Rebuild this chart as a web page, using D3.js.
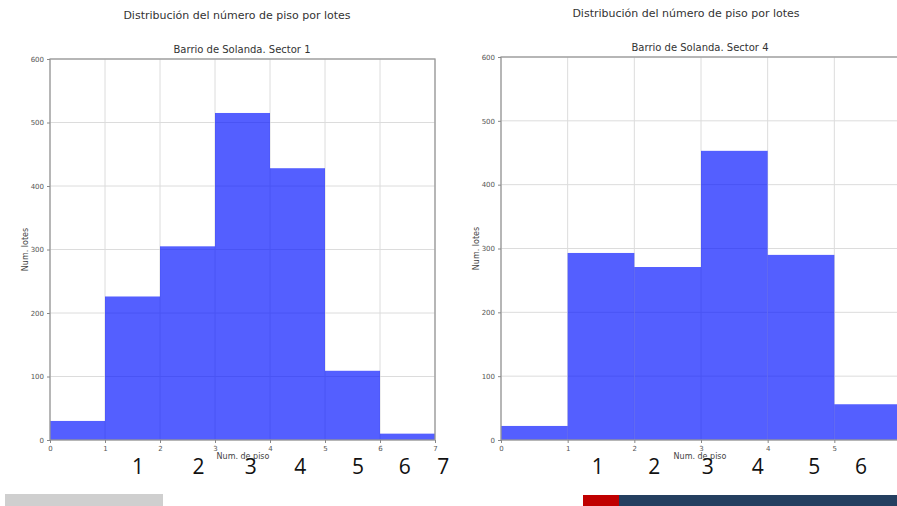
<!DOCTYPE html>
<html>
<head>
<meta charset="utf-8">
<script src="https://cdn.jsdelivr.net/npm/d3@7"></script>
<style>
  body { margin: 0; background: #fff; }
  svg { display: block; font-family: "DejaVu Sans", sans-serif; }
</style>
</head>
<body>
<svg width="897" height="506"></svg>
<script>
// bin edges (Num. de piso) and counts per sector
var binsSector1 = [0, 1, 2, 3, 4, 5, 6, 7];
var countsSector1 = [30, 226, 305, 515, 428, 109, 10];
var binsSector4 = [0, 1, 2, 3, 4, 5, 6];
var countsSector4 = [22, 293, 271, 453, 290, 56];
var yTicks = [0, 100, 200, 300, 400, 500, 600];
var bigLabels1 = ['1', '2', '3', '4', '5', '6', '7'];
var bigLabels4 = ['1', '2', '3', '4', '5', '6'];
var bigPos1 = [1.6, 2.7, 3.65, 4.55, 5.6, 6.45, 7.15];
var bigPos4 = [1.45, 2.3, 3.1, 3.85, 4.7, 5.4];

var svg = d3.select('svg');

// slide decorations
svg.append('rect').attr('x', 5).attr('y', 494).attr('width', 158).attr('height', 12).attr('fill', '#cfcfcf');
svg.append('rect').attr('x', 583).attr('y', 495).attr('width', 36).attr('height', 11).attr('fill', '#c00000');
svg.append('rect').attr('x', 619).attr('y', 495).attr('width', 278).attr('height', 11).attr('fill', '#243f60');

var drawHist = function(opts) {
  var x = d3.scaleLinear()
    .domain([opts.bins[0], opts.bins[opts.bins.length - 1]])
    .range([opts.left, opts.right]);
  var y = d3.scaleLinear()
    .domain([0, 600])
    .range([opts.bottom, opts.top]);

  var g = svg.append('g');

  // suptitle + title
  g.append('text')
    .attr('x', opts.supX).attr('y', opts.supY)
    .attr('text-anchor', 'middle')
    .attr('font-size', 11).attr('fill', '#333')
    .text('Distribución del número de piso por lotes');
  g.append('text')
    .attr('x', opts.titleX).attr('y', opts.top - 6)
    .attr('text-anchor', 'middle')
    .attr('font-size', 10).attr('fill', '#333')
    .text(opts.title);

  // grid
  g.selectAll('.vgrid')
    .data(opts.bins)
    .enter()
    .append('line')
    .attr('x1', function(d) { return x(d); })
    .attr('x2', function(d) { return x(d); })
    .attr('y1', opts.top).attr('y2', opts.bottom)
    .attr('stroke', '#dcdcdc').attr('stroke-width', 1);
  g.selectAll('.hgrid')
    .data(yTicks)
    .enter()
    .append('line')
    .attr('x1', opts.left).attr('x2', opts.right)
    .attr('y1', function(d) { return y(d); })
    .attr('y2', function(d) { return y(d); })
    .attr('stroke', '#dcdcdc').attr('stroke-width', 1);

  // bars
  g.selectAll('.bar')
    .data(opts.counts)
    .enter()
    .append('rect')
    .attr('x', function(d, i) { return x(opts.bins[i]); })
    .attr('width', function(d, i) { return x(opts.bins[i + 1]) - x(opts.bins[i]); })
    .attr('y', function(d) { return y(d); })
    .attr('height', function(d) { return y(0) - y(d); })
    .attr('fill', '#0010ff')
    .attr('fill-opacity', 0.67);

  // frame
  g.append('rect')
    .attr('x', opts.left).attr('y', opts.top)
    .attr('width', opts.right - opts.left).attr('height', opts.bottom - opts.top)
    .attr('fill', 'none').attr('stroke', '#999').attr('stroke-width', 1.3);

  // axes
  var xAxis = g.append('g')
    .attr('transform', 'translate(0,' + opts.bottom + ')')
    .call(d3.axisBottom(x).tickValues(opts.bins).tickSize(3).tickFormat(d3.format('d')));
  var yAxis = g.append('g')
    .attr('transform', 'translate(' + opts.left + ',0)')
    .call(d3.axisLeft(y).tickValues(yTicks).tickSize(3));
  [xAxis, yAxis].forEach(function(a) {
    a.select('.domain').remove();
    a.selectAll('line').attr('stroke', '#888');
    a.selectAll('text').attr('fill', '#555').attr('font-size', 7)
      .attr('font-family', '"DejaVu Sans", sans-serif');
  });

  // axis labels
  g.append('text')
    .attr('x', (opts.left + Math.min(opts.right, 897)) / 2 - (opts.right > 897 ? 0 : 0))
    .attr('x', opts.xLabelX).attr('y', opts.bottom + 19)
    .attr('text-anchor', 'middle')
    .attr('font-size', 8).attr('fill', '#444')
    .text('Num. de piso');
  g.append('text')
    .attr('transform', 'translate(' + (opts.left - 22) + ',' + ((opts.top + opts.bottom) / 2) + ') rotate(-90)')
    .attr('text-anchor', 'middle')
    .attr('font-size', 8).attr('fill', '#444')
    .text('Num. lotes');

  // big slide numbers
  g.selectAll('.big')
    .data(opts.big)
    .enter()
    .append('text')
    .attr('x', function(d, i) { return x(opts.bigPos[i]); })
    .attr('y', 474)
    .attr('text-anchor', 'middle')
    .attr('font-family', '"Open Sans", sans-serif')
    .attr('font-size', 21).attr('fill', '#111')
    .text(function(d) { return d; });
};

drawHist({
  bins: binsSector1, counts: countsSector1, big: bigLabels1, bigPos: bigPos1,
  left: 50, right: 435, top: 59, bottom: 440,
  title: 'Barrio de Solanda. Sector 1', titleX: 242,
  supX: 237, supY: 19, xLabelX: 243
});
drawHist({
  bins: binsSector4, counts: countsSector4, big: bigLabels4, bigPos: bigPos4,
  left: 501, right: 901, top: 57, bottom: 440,
  title: 'Barrio de Solanda. Sector 4', titleX: 700,
  supX: 686, supY: 17, xLabelX: 700
});
</script>
</body>
</html>
